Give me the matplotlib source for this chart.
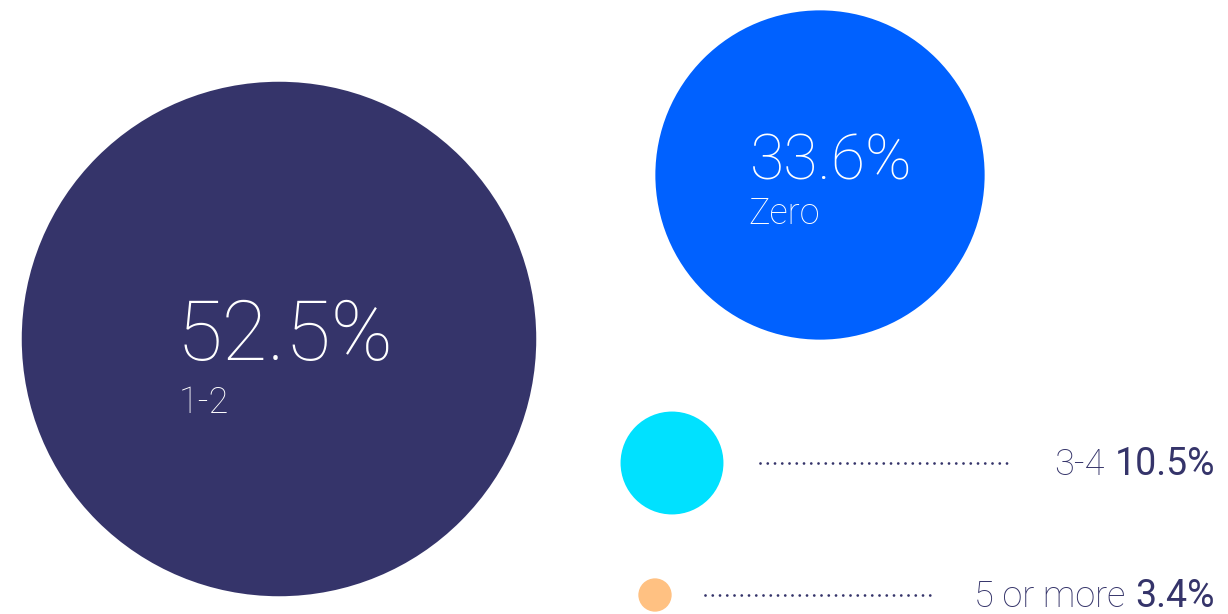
import matplotlib.pyplot as plt
from matplotlib.patches import Circle

# Data
categories = ['1-2', 'Zero', '3-4', '5 or more']
shares = [52.5, 33.6, 10.5, 3.4]
colors = ['#35346a', '#0061ff', '#00e1ff', '#ffc182']

# Layout (pixel units, y downwards)
centers = [(279, 339), (820, 175), (672, 463), (655, 595)]
px_per_pct = 4.9          # radius grows with the share
navy = '#35346a'

fig = plt.figure(figsize=(12.28, 6.14), dpi=100)
ax = fig.add_axes([0, 0, 1, 1])
ax.set_xlim(0, 1228)
ax.set_ylim(614, 0)
ax.set_aspect('equal')
ax.axis('off')

for (cx, cy), val, col in zip(centers, shares, colors):
    ax.add_patch(Circle((cx, cy), val * px_per_pct, color=col, lw=0))

# Labels inside the two big bubbles
ax.text(177, 360, f"{shares[0]}%", color='white', fontsize=60, family='Roboto',
        fontweight='light', ha='left', va='baseline')
ax.text(179, 413, categories[0], color='white', fontsize=26, family='Roboto',
        fontweight='light', ha='left', va='baseline')
ax.text(750, 180, f"{shares[1]}%", color='white', fontsize=45, family='Roboto',
        fontweight='light', ha='left', va='baseline')
ax.text(748, 224, categories[1], color='white', fontsize=26, family='Roboto',
        fontweight='light', ha='left', va='baseline')

# Small bubbles: dotted leader + label on the right
fig.canvas.draw()
renderer = fig.canvas.get_renderer()
rows = [(2, 760, 1013), (3, 705, 930)]
for i, x0, x1 in rows:
    cy = centers[i][1]
    ax.plot([x0, x1], [cy, cy], color=navy, lw=2.0, ls=(0, (0.01, 2.6)),
            dash_capstyle='round')
    t = ax.text(1215, cy + 12, f"{shares[i]}%", color=navy, fontsize=27,
                family='Roboto', fontweight='normal', ha='right', va='baseline')
    bb = t.get_window_extent(renderer)
    x_left = ax.transData.inverted().transform((bb.x0, 0))[0]
    ax.text(x_left - 10, cy + 12, categories[i], color=navy, fontsize=26,
            family='Roboto', fontweight='light', ha='right', va='baseline')

fig.savefig('out.png', dpi=100, facecolor='white')
